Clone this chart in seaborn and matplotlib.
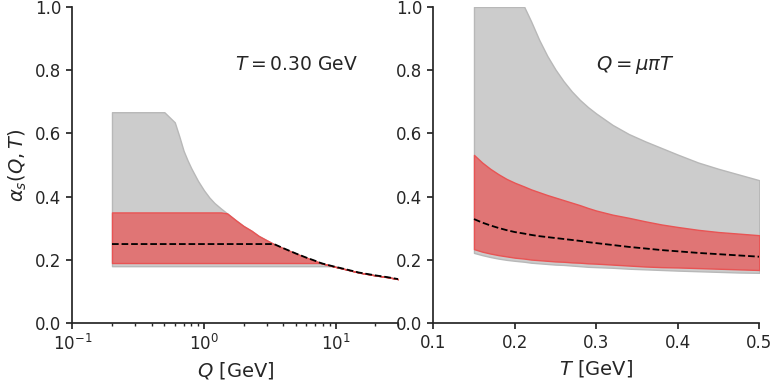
import numpy as np
import matplotlib
matplotlib.use("Agg")
import matplotlib.pyplot as plt
import seaborn as sns

sns.set_theme(style="ticks")
plt.rcParams["font.family"] = ["DejaVu Sans"]

# %%
# 左: T = 0.30 GeV での Q 依存性
# --------------------------------
q_gev = [0.2, 0.3, 0.4, 0.5, 0.6, 0.65, 0.7, 0.75, 0.8, 0.9, 1.0, 1.1, 1.2, 1.35,
         1.5, 1.75, 2.0, 2.3, 2.6, 3.0, 3.4, 4.0, 5.0, 6.0, 7.0, 7.6, 8.0, 9.5,
         12.0, 15.0, 20.0, 25.0, 30.0]
q_gray_hi = [0.667, 0.667, 0.667, 0.667, 0.635, 0.59, 0.545, 0.515, 0.49, 0.45,
             0.42, 0.397, 0.38, 0.362, 0.347, 0.325, 0.307, 0.292, 0.276, 0.262,
             0.25, 0.237, 0.22, 0.207, 0.197, 0.191, 0.188, 0.18, 0.17, 0.16,
             0.151, 0.145, 0.139]
q_gray_lo = [0.18, 0.18, 0.18, 0.18, 0.18, 0.18, 0.18, 0.18, 0.18, 0.18,
             0.18, 0.18, 0.18, 0.18, 0.18, 0.18, 0.18, 0.18, 0.18, 0.18,
             0.18, 0.18, 0.18, 0.18, 0.18, 0.18, 0.18, 0.18, 0.17, 0.16,
             0.151, 0.145, 0.139]
q_red_hi = [0.35, 0.35, 0.35, 0.35, 0.35, 0.35, 0.35, 0.35, 0.35, 0.35,
            0.35, 0.35, 0.35, 0.35, 0.347, 0.325, 0.307, 0.292, 0.276, 0.262,
            0.25, 0.237, 0.22, 0.207, 0.197, 0.191, 0.188, 0.18, 0.17, 0.16,
            0.151, 0.145, 0.139]
q_red_lo = [0.19, 0.19, 0.19, 0.19, 0.19, 0.19, 0.19, 0.19, 0.19, 0.19,
            0.19, 0.19, 0.19, 0.19, 0.19, 0.19, 0.19, 0.19, 0.19, 0.19,
            0.19, 0.19, 0.19, 0.19, 0.19, 0.19, 0.188, 0.18, 0.17, 0.16,
            0.151, 0.145, 0.139]
q_central = [0.25, 0.25, 0.25, 0.25, 0.25, 0.25, 0.25, 0.25, 0.25, 0.25,
             0.25, 0.25, 0.25, 0.25, 0.25, 0.25, 0.25, 0.25, 0.25, 0.25,
             0.25, 0.237, 0.22, 0.207, 0.197, 0.191, 0.188, 0.18, 0.17, 0.16,
             0.151, 0.145, 0.139]

# %%
# 右: Q = mu pi T での T 依存性
# --------------------------------
t_gev = [0.15, 0.16, 0.17, 0.18, 0.19, 0.2, 0.2117, 0.22, 0.23, 0.24, 0.25, 0.26,
         0.27, 0.28, 0.29, 0.3, 0.32, 0.34, 0.36, 0.38, 0.4, 0.425, 0.45, 0.475, 0.5]
t_gray_hi = [1.0, 1.0, 1.0, 1.0, 1.0, 1.0, 1.0, 0.955, 0.896, 0.845, 0.802, 0.765,
             0.733, 0.706, 0.683, 0.663, 0.627, 0.598, 0.575, 0.554, 0.533, 0.508,
             0.488, 0.47, 0.452]
t_gray_lo = [0.222, 0.215, 0.209, 0.204, 0.2, 0.197, 0.194, 0.191, 0.189, 0.187,
             0.185, 0.184, 0.182, 0.18, 0.178, 0.177, 0.175, 0.172, 0.17, 0.168,
             0.166, 0.164, 0.162, 0.16, 0.159]
t_red_hi = [0.532, 0.508, 0.488, 0.471, 0.456, 0.444, 0.432, 0.423, 0.414, 0.405,
            0.397, 0.389, 0.381, 0.373, 0.364, 0.356, 0.343, 0.333, 0.322, 0.312,
            0.304, 0.295, 0.288, 0.283, 0.278]
t_red_lo = [0.234, 0.226, 0.22, 0.215, 0.211, 0.207, 0.204, 0.201, 0.199, 0.197,
            0.195, 0.194, 0.192, 0.191, 0.189, 0.188, 0.185, 0.182, 0.179, 0.177,
            0.176, 0.174, 0.172, 0.17, 0.168]
t_central = [0.329, 0.318, 0.309, 0.301, 0.294, 0.288, 0.283, 0.279, 0.275, 0.272,
             0.269, 0.266, 0.263, 0.26, 0.256, 0.253, 0.247, 0.241, 0.236, 0.231,
             0.227, 0.222, 0.218, 0.214, 0.21]

gray_fill = "#cccccc"
gray_edge = "#b8b8b8"
red_fill = "#e07575"
red_edge = "#e85454"

fig, axes = plt.subplots(1, 2, figsize=(7.7, 3.86), dpi=100)
fig.subplots_adjust(left=0.094, right=0.986, top=0.982, bottom=0.163, wspace=0.107)

ax = axes[0]
ax.fill_between(q_gev, q_gray_lo, q_gray_hi, facecolor=gray_fill, edgecolor=gray_edge, lw=1)
ax.fill_between(q_gev, q_red_lo, q_red_hi, facecolor=red_fill, edgecolor=red_edge, lw=1)
sns.lineplot(x=q_gev, y=q_central, ax=ax, color="black", linestyle="--", lw=1.3)
ax.set_xscale("log")
ax.set_xlim(0.1, 30)
ax.set_ylim(0, 1)
ax.set_xlabel(r"$Q$ [GeV]", fontsize=14)
ax.set_ylabel(r"$\alpha_s(Q,T)$", fontsize=14)
ax.text(0.5, 0.8, r"$T = 0.30$ GeV", fontsize=13.5, transform=ax.transAxes)

ax = axes[1]
ax.fill_between(t_gev, t_gray_lo, t_gray_hi, facecolor=gray_fill, edgecolor=gray_edge, lw=1)
ax.fill_between(t_gev, t_red_lo, t_red_hi, facecolor=red_fill, edgecolor=red_edge, lw=1)
sns.lineplot(x=t_gev, y=t_central, ax=ax, color="black", linestyle="--", lw=1.3)
ax.set_xlim(0.1, 0.5)
ax.set_ylim(0, 1)
ax.set_xlabel(r"$T$ [GeV]", fontsize=14)
ax.text(0.5, 0.8, r"$Q = \mu\pi T$", fontsize=14, transform=ax.transAxes)

for ax in axes:
    ax.tick_params(labelsize=12, which="major", length=4.5)
    ax.tick_params(which="minor", length=2.5)
    sns.despine(ax=ax)

fig.savefig("out.png", dpi=100)
